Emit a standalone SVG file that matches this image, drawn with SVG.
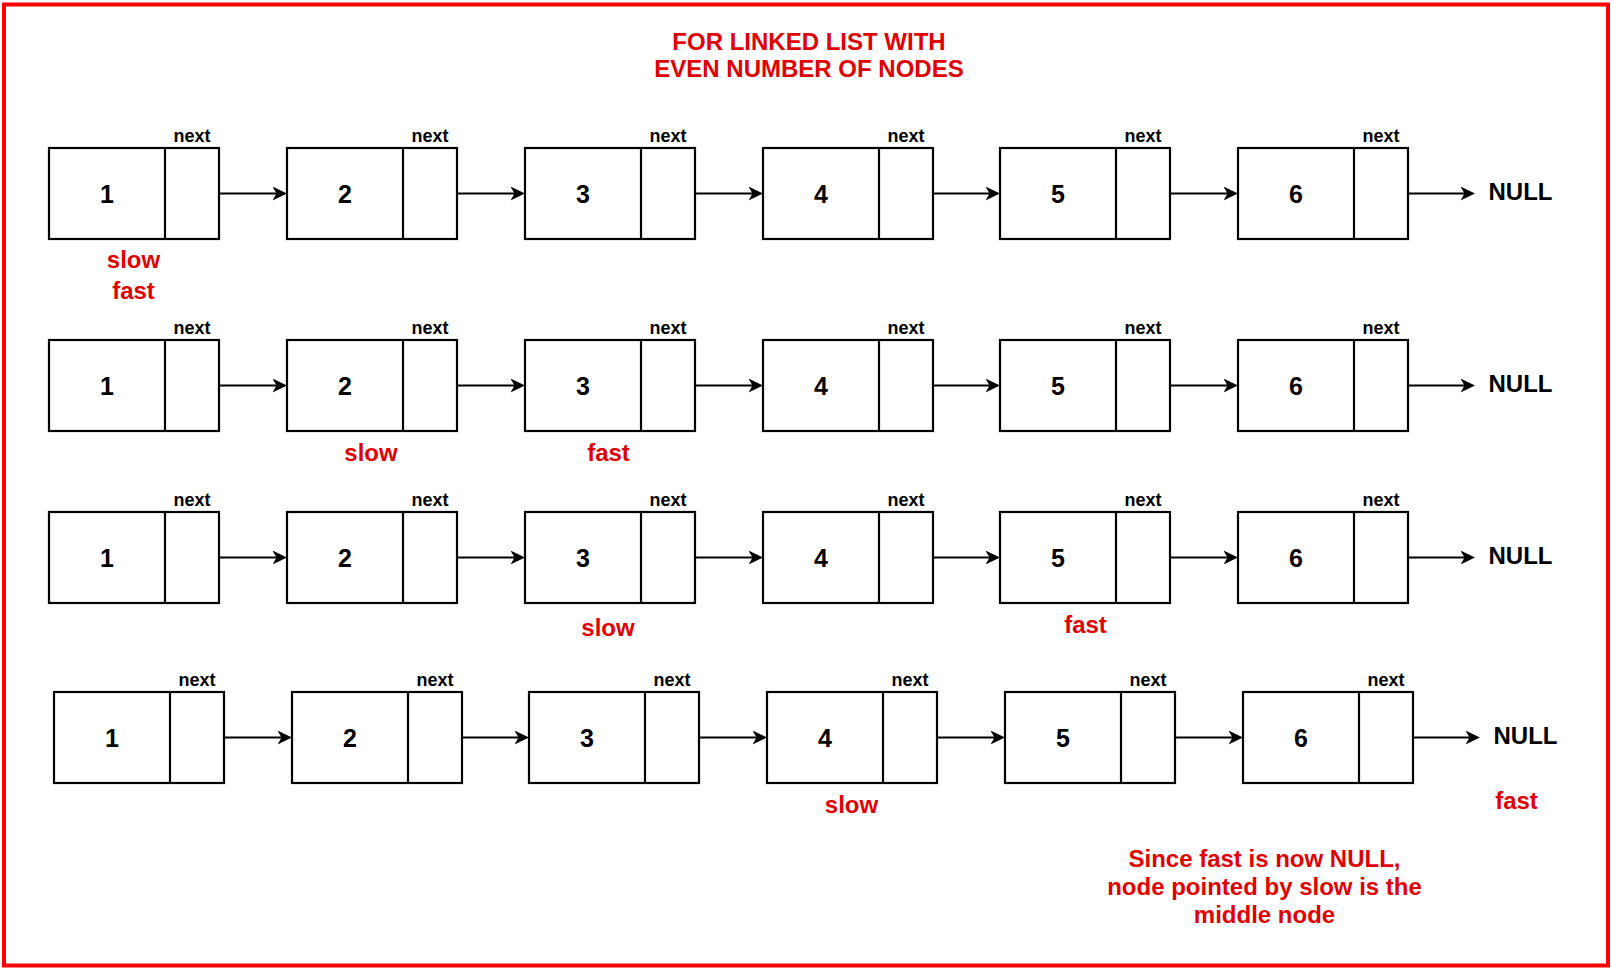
<svg xmlns="http://www.w3.org/2000/svg" width="1612" height="970" viewBox="0 0 1612 970">
<style>
  .box { fill: #ffffff; stroke: #000000; stroke-width: 2.2; }
  .div { stroke: #000000; stroke-width: 2.2; }
  .num { font-family: "Liberation Sans", Arial, sans-serif; font-weight: bold; font-size: 25px; fill: #000000; text-anchor: middle; }
  .nxt { font-family: "Liberation Sans", Arial, sans-serif; font-weight: bold; font-size: 18px; fill: #000000; text-anchor: middle; }
  .null { font-family: "Liberation Sans", Arial, sans-serif; font-weight: bold; font-size: 24px; fill: #000000; }
  .red { font-family: "Liberation Sans", Arial, sans-serif; font-weight: bold; font-size: 24px; fill: #e00000; text-anchor: middle; }
  .edge { stroke: #000000; stroke-width: 2.2; fill: none; marker-end: url(#arr); }
</style>
<defs>
  <marker id="arr" markerUnits="userSpaceOnUse" markerWidth="15" markerHeight="15" refX="10" refY="7.5" orient="auto">
    <path d="M0,0.5 L14.5,7.5 L0,14.5 L4,7.5 Z" fill="#000000"/>
  </marker>
</defs>
<rect x="0" y="0" width="1612" height="970" fill="#ffffff"/>
<rect id="frame" x="4" y="4.5" width="1604" height="961" fill="none" stroke="#ff0000" stroke-width="4"/>

<g id="title">
  <text class="red" x="809" y="50">FOR LINKED LIST WITH</text>
  <text class="red" x="809" y="76.5">EVEN NUMBER OF NODES</text>
</g>

<!-- Row 1 -->
<g id="r1n1"><rect class="box" x="49" y="148" width="170" height="91"/><line class="div" x1="165" y1="148" x2="165" y2="239"/><text class="num" x="107" y="203">1</text><text class="nxt" x="192" y="141.5">next</text></g>
<g id="r1n2"><rect class="box" x="287" y="148" width="170" height="91"/><line class="div" x1="403" y1="148" x2="403" y2="239"/><text class="num" x="345" y="203">2</text><text class="nxt" x="430" y="141.5">next</text></g>
<g id="r1n3"><rect class="box" x="525" y="148" width="170" height="91"/><line class="div" x1="641" y1="148" x2="641" y2="239"/><text class="num" x="583" y="203">3</text><text class="nxt" x="668" y="141.5">next</text></g>
<g id="r1n4"><rect class="box" x="763" y="148" width="170" height="91"/><line class="div" x1="879" y1="148" x2="879" y2="239"/><text class="num" x="821" y="203">4</text><text class="nxt" x="906" y="141.5">next</text></g>
<g id="r1n5"><rect class="box" x="1000" y="148" width="170" height="91"/><line class="div" x1="1116" y1="148" x2="1116" y2="239"/><text class="num" x="1058" y="203">5</text><text class="nxt" x="1143" y="141.5">next</text></g>
<g id="r1n6"><rect class="box" x="1238" y="148" width="170" height="91"/><line class="div" x1="1354" y1="148" x2="1354" y2="239"/><text class="num" x="1296" y="203">6</text><text class="nxt" x="1381" y="141.5">next</text></g>
<g id="r1null"><text class="null" x="1488.5" y="199.5">NULL</text></g>

<!-- Row 2 -->
<g id="r2n1"><rect class="box" x="49" y="340" width="170" height="91"/><line class="div" x1="165" y1="340" x2="165" y2="431"/><text class="num" x="107" y="395">1</text><text class="nxt" x="192" y="333.5">next</text></g>
<g id="r2n2"><rect class="box" x="287" y="340" width="170" height="91"/><line class="div" x1="403" y1="340" x2="403" y2="431"/><text class="num" x="345" y="395">2</text><text class="nxt" x="430" y="333.5">next</text></g>
<g id="r2n3"><rect class="box" x="525" y="340" width="170" height="91"/><line class="div" x1="641" y1="340" x2="641" y2="431"/><text class="num" x="583" y="395">3</text><text class="nxt" x="668" y="333.5">next</text></g>
<g id="r2n4"><rect class="box" x="763" y="340" width="170" height="91"/><line class="div" x1="879" y1="340" x2="879" y2="431"/><text class="num" x="821" y="395">4</text><text class="nxt" x="906" y="333.5">next</text></g>
<g id="r2n5"><rect class="box" x="1000" y="340" width="170" height="91"/><line class="div" x1="1116" y1="340" x2="1116" y2="431"/><text class="num" x="1058" y="395">5</text><text class="nxt" x="1143" y="333.5">next</text></g>
<g id="r2n6"><rect class="box" x="1238" y="340" width="170" height="91"/><line class="div" x1="1354" y1="340" x2="1354" y2="431"/><text class="num" x="1296" y="395">6</text><text class="nxt" x="1381" y="333.5">next</text></g>
<g id="r2null"><text class="null" x="1488.5" y="391.5">NULL</text></g>

<!-- Row 3 -->
<g id="r3n1"><rect class="box" x="49" y="512" width="170" height="91"/><line class="div" x1="165" y1="512" x2="165" y2="603"/><text class="num" x="107" y="567">1</text><text class="nxt" x="192" y="505.5">next</text></g>
<g id="r3n2"><rect class="box" x="287" y="512" width="170" height="91"/><line class="div" x1="403" y1="512" x2="403" y2="603"/><text class="num" x="345" y="567">2</text><text class="nxt" x="430" y="505.5">next</text></g>
<g id="r3n3"><rect class="box" x="525" y="512" width="170" height="91"/><line class="div" x1="641" y1="512" x2="641" y2="603"/><text class="num" x="583" y="567">3</text><text class="nxt" x="668" y="505.5">next</text></g>
<g id="r3n4"><rect class="box" x="763" y="512" width="170" height="91"/><line class="div" x1="879" y1="512" x2="879" y2="603"/><text class="num" x="821" y="567">4</text><text class="nxt" x="906" y="505.5">next</text></g>
<g id="r3n5"><rect class="box" x="1000" y="512" width="170" height="91"/><line class="div" x1="1116" y1="512" x2="1116" y2="603"/><text class="num" x="1058" y="567">5</text><text class="nxt" x="1143" y="505.5">next</text></g>
<g id="r3n6"><rect class="box" x="1238" y="512" width="170" height="91"/><line class="div" x1="1354" y1="512" x2="1354" y2="603"/><text class="num" x="1296" y="567">6</text><text class="nxt" x="1381" y="505.5">next</text></g>
<g id="r3null"><text class="null" x="1488.5" y="563.5">NULL</text></g>

<!-- Row 4 -->
<g id="r4n1"><rect class="box" x="54" y="692" width="170" height="91"/><line class="div" x1="170" y1="692" x2="170" y2="783"/><text class="num" x="112" y="747">1</text><text class="nxt" x="197" y="685.5">next</text></g>
<g id="r4n2"><rect class="box" x="292" y="692" width="170" height="91"/><line class="div" x1="408" y1="692" x2="408" y2="783"/><text class="num" x="350" y="747">2</text><text class="nxt" x="435" y="685.5">next</text></g>
<g id="r4n3"><rect class="box" x="529" y="692" width="170" height="91"/><line class="div" x1="645" y1="692" x2="645" y2="783"/><text class="num" x="587" y="747">3</text><text class="nxt" x="672" y="685.5">next</text></g>
<g id="r4n4"><rect class="box" x="767" y="692" width="170" height="91"/><line class="div" x1="883" y1="692" x2="883" y2="783"/><text class="num" x="825" y="747">4</text><text class="nxt" x="910" y="685.5">next</text></g>
<g id="r4n5"><rect class="box" x="1005" y="692" width="170" height="91"/><line class="div" x1="1121" y1="692" x2="1121" y2="783"/><text class="num" x="1063" y="747">5</text><text class="nxt" x="1148" y="685.5">next</text></g>
<g id="r4n6"><rect class="box" x="1243" y="692" width="170" height="91"/><line class="div" x1="1359" y1="692" x2="1359" y2="783"/><text class="num" x="1301" y="747">6</text><text class="nxt" x="1386" y="685.5">next</text></g>
<g id="r4null"><text class="null" x="1493.5" y="743.5">NULL</text></g>

<g id="connectors">
  <line class="edge" x1="219" y1="193.5" x2="282.5" y2="193.5"/>
  <line class="edge" x1="457" y1="193.5" x2="520.5" y2="193.5"/>
  <line class="edge" x1="695" y1="193.5" x2="758.5" y2="193.5"/>
  <line class="edge" x1="933" y1="193.5" x2="995.5" y2="193.5"/>
  <line class="edge" x1="1170" y1="193.5" x2="1233.5" y2="193.5"/>
  <line class="edge" x1="1408" y1="193.5" x2="1470.5" y2="193.5"/>

  <line class="edge" x1="219" y1="385.5" x2="282.5" y2="385.5"/>
  <line class="edge" x1="457" y1="385.5" x2="520.5" y2="385.5"/>
  <line class="edge" x1="695" y1="385.5" x2="758.5" y2="385.5"/>
  <line class="edge" x1="933" y1="385.5" x2="995.5" y2="385.5"/>
  <line class="edge" x1="1170" y1="385.5" x2="1233.5" y2="385.5"/>
  <line class="edge" x1="1408" y1="385.5" x2="1470.5" y2="385.5"/>

  <line class="edge" x1="219" y1="557.5" x2="282.5" y2="557.5"/>
  <line class="edge" x1="457" y1="557.5" x2="520.5" y2="557.5"/>
  <line class="edge" x1="695" y1="557.5" x2="758.5" y2="557.5"/>
  <line class="edge" x1="933" y1="557.5" x2="995.5" y2="557.5"/>
  <line class="edge" x1="1170" y1="557.5" x2="1233.5" y2="557.5"/>
  <line class="edge" x1="1408" y1="557.5" x2="1470.5" y2="557.5"/>

  <line class="edge" x1="224" y1="737.5" x2="287.5" y2="737.5"/>
  <line class="edge" x1="462" y1="737.5" x2="524.5" y2="737.5"/>
  <line class="edge" x1="699" y1="737.5" x2="762.5" y2="737.5"/>
  <line class="edge" x1="937" y1="737.5" x2="1000.5" y2="737.5"/>
  <line class="edge" x1="1175" y1="737.5" x2="1238.5" y2="737.5"/>
  <line class="edge" x1="1413" y1="737.5" x2="1475.5" y2="737.5"/>
</g>

<g id="pointers">
  <text class="red" x="133.5" y="268">slow</text>
  <text class="red" x="133.5" y="299">fast</text>
  <text class="red" x="371" y="461">slow</text>
  <text class="red" x="608.5" y="461">fast</text>
  <text class="red" x="608" y="636">slow</text>
  <text class="red" x="1085.5" y="633">fast</text>
  <text class="red" x="851.5" y="812.5">slow</text>
  <text class="red" x="1516.5" y="809">fast</text>
</g>

<g id="note">
  <text class="red" x="1264.5" y="866.5">Since fast is now NULL,</text>
  <text class="red" x="1264.5" y="895">node pointed by slow is the</text>
  <text class="red" x="1264.5" y="922.5">middle node</text>
</g>
</svg>
